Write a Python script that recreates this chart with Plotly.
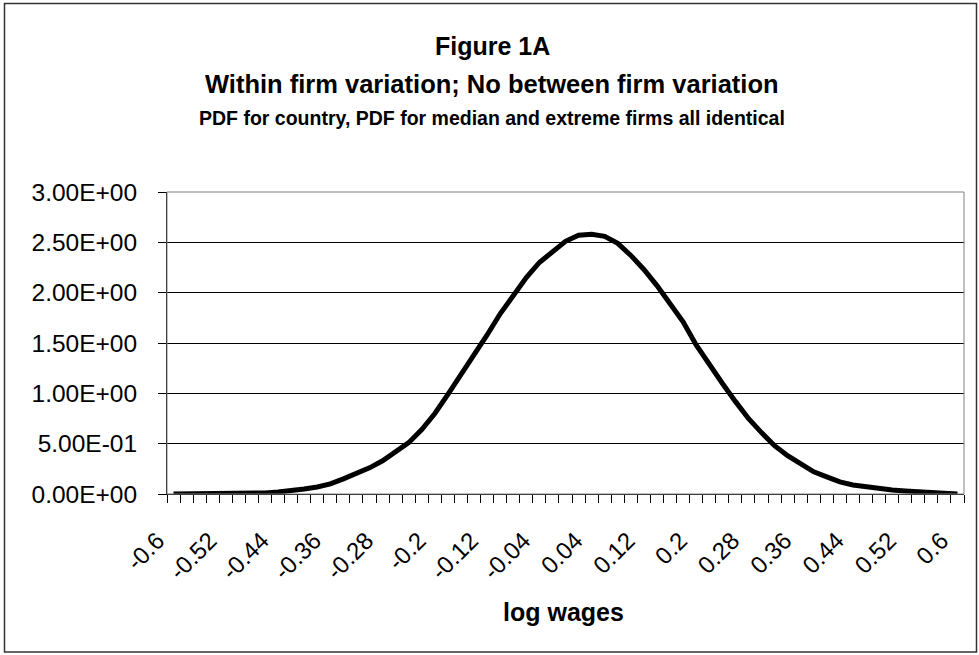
"""
Figure 1A: within-firm wage variation, no between-firm variation.
Excel-style line chart of the log-wage PDF rebuilt with Plotly.
"""
import plotly.graph_objects as go

# log wage grid (category axis in the original chart)
log_wages = [
    -0.60, -0.58, -0.56, -0.54, -0.52, -0.50, -0.48, -0.46, -0.44, -0.42,
    -0.40, -0.38, -0.36, -0.34, -0.32, -0.30, -0.28, -0.26, -0.24, -0.22,
    -0.20, -0.18, -0.16, -0.14, -0.12, -0.10, -0.08, -0.06, -0.04, -0.02,
    0.00, 0.02, 0.04, 0.06, 0.08, 0.10, 0.12, 0.14, 0.16, 0.18,
    0.20, 0.22, 0.24, 0.26, 0.28, 0.30, 0.32, 0.34, 0.36, 0.38,
    0.40, 0.42, 0.44, 0.46, 0.48, 0.50, 0.52, 0.54, 0.56, 0.58,
    0.60,
]

# PDF values
pdf_values = [
    0.00, 0.00, 0.00, 0.00, 0.00, 0.01, 0.01, 0.01, 0.02, 0.03,
    0.05, 0.07, 0.10, 0.15, 0.20, 0.26, 0.33, 0.42, 0.51, 0.64,
    0.80, 0.99, 1.18, 1.38, 1.58, 1.79, 1.98, 2.15, 2.30, 2.41,
    2.51, 2.57, 2.58, 2.56, 2.49, 2.37, 2.23, 2.07, 1.90, 1.71,
    1.48, 1.28, 1.10, 0.92, 0.75, 0.61, 0.48, 0.38, 0.30, 0.22,
    0.17, 0.12, 0.09, 0.07, 0.05, 0.04, 0.03, 0.02, 0.01, 0.01,
    0.00,
]

x_tick_vals = [-0.6, -0.52, -0.44, -0.36, -0.28, -0.2, -0.12, -0.04,
               0.04, 0.12, 0.2, 0.28, 0.36, 0.44, 0.52, 0.6]
x_tick_labels = ["-0.6", "-0.52", "-0.44", "-0.36", "-0.28", "-0.2", "-0.12", "-0.04",
                 "0.04", "0.12", "0.2", "0.28", "0.36", "0.44", "0.52", "0.6"]

y_tick_vals = [0, 0.5, 1.0, 1.5, 2.0, 2.5, 3.0]
y_tick_labels = ["0.00E+00", "5.00E-01", "1.00E+00", "1.50E+00",
                 "2.00E+00", "2.50E+00", "3.00E+00"]

title_lines = [
    "Figure 1A",
    "Within firm variation; No between firm variation",
    "PDF for country, PDF for median and extreme firms all identical",
]

W, H = 979, 655
# plot area in pixels
L, R, T, B = 167, 964, 192, 494
FONT = "Liberation Sans, Arial, sans-serif"


def px_x(x):
    return (x - L) / (R - L)


def px_y(y):
    return (B - y) / (B - T)


fig = go.Figure(go.Scatter(
    x=log_wages,
    y=pdf_values,
    mode="lines",
    line=dict(color="black", width=5),
    hoverinfo="x+y",
))

fig.update_layout(
    width=W,
    height=H,
    margin=dict(l=L, r=W - R, t=T, b=H - B),
    paper_bgcolor="white",
    plot_bgcolor="white",
    showlegend=False,
    font=dict(family=FONT, color="black"),
)

fig.update_xaxes(
    range=[-0.61, 0.61],
    tickmode="array",
    tickvals=x_tick_vals,
    ticktext=x_tick_labels,
    tickangle=-45,
    tickfont=dict(size=24),
    ticks="outside",
    ticklen=8,
    tickcolor="rgba(0,0,0,0)",
    ticklabelstandoff=14,
    ticklabelshift=-16,
    showgrid=False,
    zeroline=False,
    showline=True,
    linecolor="black",
    linewidth=1,
    minor=dict(tick0=-0.61, dtick=0.02, ticks="outside", ticklen=8,
               tickcolor="black", tickwidth=1, showgrid=False),
)

fig.update_yaxes(
    range=[0, 3],
    tickmode="array",
    tickvals=y_tick_vals,
    ticktext=y_tick_labels,
    tickfont=dict(size=24.5),
    ticks="outside",
    ticklen=8,
    tickcolor="black",
    ticklabelstandoff=16,
    showgrid=True,
    gridcolor="black",
    gridwidth=1,
    zeroline=False,
    showline=True,
    linecolor="black",
    linewidth=1,
)

# plot area border (grey, Excel style)
fig.add_shape(type="rect", xref="x domain", yref="y domain",
              x0=0, x1=1, y0=0, y1=1,
              line=dict(color="#808080", width=1), layer="above")

# chart area border
fig.add_shape(type="rect", xref="paper", yref="paper",
              x0=px_x(4.5), x1=px_x(976.5), y0=px_y(652), y1=px_y(3.5),
              line=dict(color="#333333", width=1.5), layer="above")

# titles
title_y = [46, 84, 118]
title_size = [25, 25.5, 19.5]
for text, y, size in zip(title_lines, title_y, title_size):
    fig.add_annotation(
        text=f"<b>{text}</b>", xref="paper", yref="paper",
        x=px_x(492), y=px_y(y), xanchor="center", yanchor="middle",
        showarrow=False, font=dict(size=size, family=FONT, color="black"),
    )

# x axis title
fig.add_annotation(
    text="<b>log wages</b>", xref="paper", yref="paper",
    x=px_x(563), y=px_y(612), xanchor="center", yanchor="middle",
    showarrow=False, font=dict(size=25, family=FONT, color="black"),
)

# drop the default page margin so the chart fills the window exactly
fig.write_html(
    "out.html",
    config={"displayModeBar": False},
    post_script="document.body.style.margin='0';",
)
